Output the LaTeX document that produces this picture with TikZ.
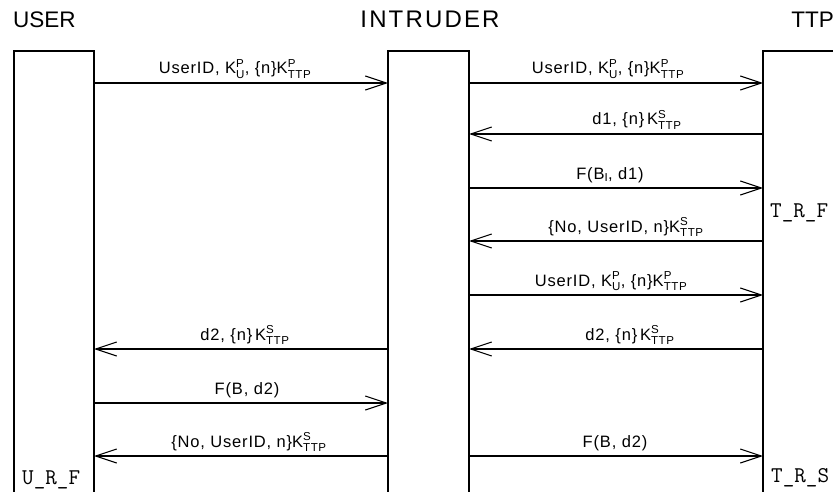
\documentclass[tikz,border=0pt]{standalone}
\usepackage{amsmath}
\usepackage{fontspec}
\setmainfont{Liberation Sans}
\usetikzlibrary{arrows.meta}

% key with superscript and subscript, set in the text font
\newcommand{\keyof}[2]{$\text{K}^{\text{#1}}_{\text{#2}}$}

\begin{document}
\begin{tikzpicture}[x=1pt,y=-1pt,
  lane/.style={line width=1.2pt},
  msg/.style={line width=1.1pt,-{Straight Barb[length=21pt,width=14pt,line width=1.1pt]}},
  lbl/.style={anchor=base,yshift=9pt,inner sep=0pt,
    font=\fontsize{16.5}{19}\selectfont\addfontfeature{LetterSpace=5}},
  title/.style={anchor=base,inner sep=0pt,font=\fontsize{22.5}{26}\selectfont},
  state/.style={anchor=base west,inner sep=0pt,
    font=\ttfamily\fontsize{22.5}{24}\selectfont}]
\useasboundingbox (0,0) rectangle (833,492);

% party titles
\node[title,anchor=base west] (tuser) at (13,28) {USER};
\node[title,font=\fontsize{24}{28}\selectfont\addfontfeature{LetterSpace=9}] (tintr) at (430,28) {INTRUDER};
\node[title,anchor=base east] (tttp) at (834,28) {TTP};

% lifeline boxes, open at the bottom
\draw[lane] (14,492) -- (14,51) -- (94,51) -- (94,492);
\draw[lane] (388,492) -- (388,51) -- (469,51) -- (469,492);
\draw[lane] (763,492) -- (763,51) -- (840,51);

% message levels on each lifeline edge
\foreach \i/\y in {1/83,2/134,3/188,4/241,5/295,6/349,7/403,8/456}{
  \coordinate (u\i) at (94,\y);
  \coordinate (il\i) at (388,\y);
  \coordinate (ir\i) at (469,\y);
  \coordinate (t\i) at (763,\y);
}

% messages
\draw[msg] (u1) -- node[lbl,xshift=-6pt]{UserID, \keyof{P}{U}, \{n\}\keyof{P}{TTP}} (il1);
\draw[msg] (ir1) -- node[lbl,xshift=-8pt]{UserID, \keyof{P}{U}, \{n\}\keyof{P}{TTP}} (t1);
\draw[msg] (t2) -- node[lbl,xshift=21pt]{d1, \{n\}\,\keyof{S}{TTP}} (ir2);
\draw[msg] (ir3) -- node[lbl,xshift=-6pt]{F(B$_{\text{I}}$, d1)} (t3);
\draw[msg] (t4) -- node[lbl,xshift=10pt]{\{No, UserID, n\}\keyof{S}{TTP}} (ir4);
\draw[msg] (ir5) -- node[lbl,xshift=-5pt]{UserID, \keyof{P}{U}, \{n\}\keyof{P}{TTP}} (t5);
\draw[msg] (t6) -- node[lbl,xshift=14pt]{d2, \{n\}\,\keyof{S}{TTP}} (ir6);
\draw[msg] (il6) -- node[lbl,xshift=4pt]{d2, \{n\}\,\keyof{S}{TTP}} (u6);
\draw[msg] (u7) -- node[lbl,xshift=6pt]{F(B, d2)} (il7);
\draw[msg] (il8) -- node[lbl,xshift=8pt]{\{No, UserID, n\}\keyof{S}{TTP}} (u8);
\draw[msg] (ir8) -- node[lbl,xshift=-1pt]{F(B, d2)} (t8);

% protocol states
\node[state] (urf) at (22,484) {U\_R\_F};
\node[state] (trf) at (770,218) {T\_R\_F};
\node[state] (trs) at (771,482) {T\_R\_S};
\end{tikzpicture}
\end{document}
